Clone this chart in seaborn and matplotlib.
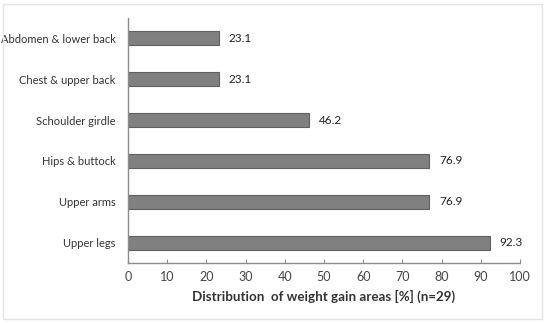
import matplotlib
matplotlib.use('Agg')
import matplotlib.pyplot as plt
import seaborn as sns
import pandas as pd
from matplotlib.patches import Rectangle

# Data
areas = ['Abdomen & lower back', 'Chest & upper back', 'Schoulder girdle',
         'Hips & buttock', 'Upper arms', 'Upper legs']
percent = [23.1, 23.1, 46.2, 76.9, 76.9, 92.3]
x_ticks = [0, 10, 20, 30, 40, 50, 60, 70, 80, 90, 100]

sns.set_style('white')
plt.rcParams['font.family'] = ['Lato', 'DejaVu Sans']

df = pd.DataFrame({'area': areas, 'percent': percent})

fig = plt.figure(figsize=(5.5, 3.23), dpi=100)
ax = fig.add_axes([128 / 550, 1 - 263 / 323, 392 / 550, 245 / 323])

sns.barplot(data=df, x='percent', y='area', orient='h', color='#808080',
            edgecolor='#606060', linewidth=0.8, width=0.34, saturation=1, ax=ax)

for i, v in enumerate(percent):
    ax.annotate(f'{v:.1f}', xy=(v, i), xytext=(7, 0), textcoords='offset points',
                va='center', ha='left', fontsize=8.5, color='#222222')

ax.set_xlim(0, 100)
ax.set_ylim(len(areas) - 0.5, -0.5)
ax.set_xticks(x_ticks)
ax.set_ylabel('')
ax.set_xlabel('Distribution  of weight gain areas [%] (n=29)', fontsize=9.6,
              fontweight='bold', color='#333333', labelpad=5)

for s in ['top', 'right']:
    ax.spines[s].set_visible(False)
for s in ['left', 'bottom']:
    ax.spines[s].set_color('#8c8c8c')
    ax.spines[s].set_linewidth(1.0)

ax.tick_params(axis='x', direction='in', length=3, color='#8c8c8c',
               labelsize=9, labelcolor='#444444', pad=6, bottom=True)
ax.tick_params(axis='y', length=0, labelsize=8.0, labelcolor='#333333', pad=9)

# light frame around the whole chart
fig.patches.append(Rectangle((3 / 550, 4 / 323), 539 / 550, 315 / 323,
                             transform=fig.transFigure, fill=False,
                             edgecolor='#e4e4e4', linewidth=1.0))

fig.savefig('out.png', dpi=100)
